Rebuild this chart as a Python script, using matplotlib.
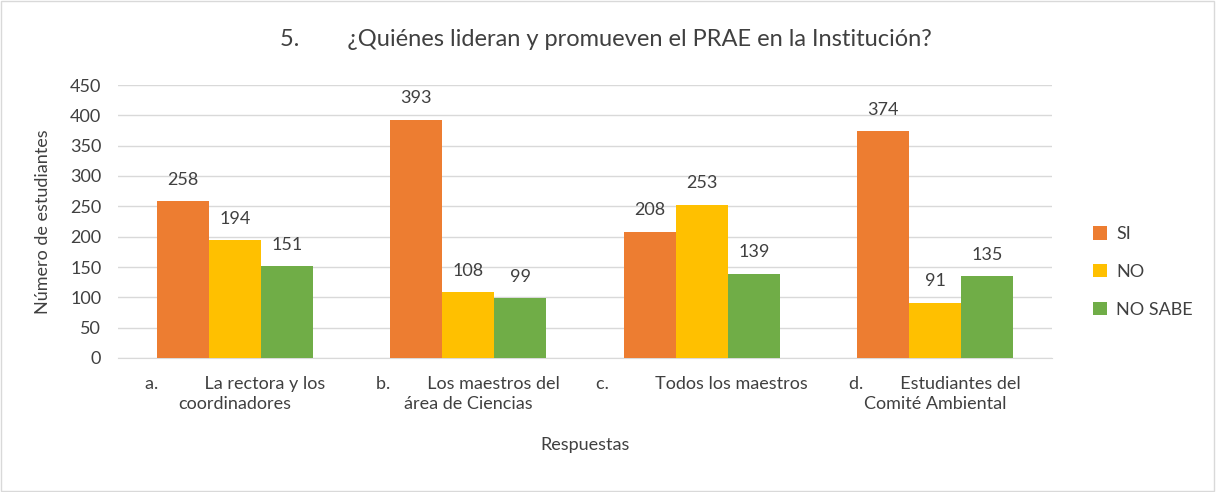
import numpy as np
import matplotlib.pyplot as plt
from matplotlib.patches import Rectangle

plt.rcParams['font.family'] = ['Lato', 'DejaVu Sans']

# data
categories = ['a.          La rectora y los\ncoordinadores',
              'b.        Los maestros del\nárea de Ciencias',
              'c.          Todos los maestros',
              'd.        Estudiantes del\nComité Ambiental']
series = ['SI', 'NO', 'NO SABE']
si = [258, 393, 208, 374]
no = [194, 108, 253, 91]
no_sabe = [151, 99, 139, 135]
colors = ['#ED7D31', '#FFC000', '#70AD47']

fig = plt.figure(figsize=(12.16, 4.92), dpi=100)
ax = fig.add_axes([118 / 1216, 1 - 358 / 492, 934 / 1216, 273 / 492])

x = np.arange(len(categories))
w = 0.223
for i, (vals, c, name) in enumerate(zip([si, no, no_sabe], colors, series)):
    bars = ax.bar(x + (i - 1) * w, vals, width=w, color=c, label=name, zorder=3)
    for b, v in zip(bars, vals):
        ax.text(b.get_x() + b.get_width() / 2, v + 22, str(v),
                ha='center', va='bottom', fontsize=13, color='#404040')

ax.set_xlim(-0.5, len(categories) - 0.5)
ax.set_ylim(0, 450)
ax.set_yticks(range(0, 451, 50))
ax.yaxis.grid(True, color='#D9D9D9', linewidth=1, zorder=0)
for s in ['top', 'right', 'left']:
    ax.spines[s].set_visible(False)
ax.spines['bottom'].set_color('#D9D9D9')
ax.tick_params(axis='both', length=0, labelsize=13, labelcolor='#404040')
ax.tick_params(axis='x', pad=13)
ax.tick_params(axis='y', pad=12)
ax.set_xticks(x)
ax.set_xticklabels(categories, multialignment='center', linespacing=1.3)

ax.set_ylabel('Número de estudiantes', fontsize=13, color='#404040', labelpad=14)
ax.set_xlabel('Respuestas', fontsize=13, color='#404040', labelpad=18)
fig.text(606 / 1216, 1 - 40 / 492,
         '5.        ¿Quiénes lideran y promueven el PRAE en la Institución?',
         ha='center', va='center', fontsize=17, color='#404040')

leg = ax.legend(loc='center left', bbox_to_anchor=(1.027, 0.315), frameon=False,
                fontsize=13, handlelength=0.75, handleheight=0.75,
                labelspacing=1.2, handletextpad=0.5)
for t in leg.get_texts():
    t.set_color('#404040')

fig.patches.append(Rectangle((0.001, 0.002), 0.997, 0.995, transform=fig.transFigure,
                             fill=False, edgecolor='#D9D9D9', linewidth=1))

fig.savefig('out.png', dpi=100)
